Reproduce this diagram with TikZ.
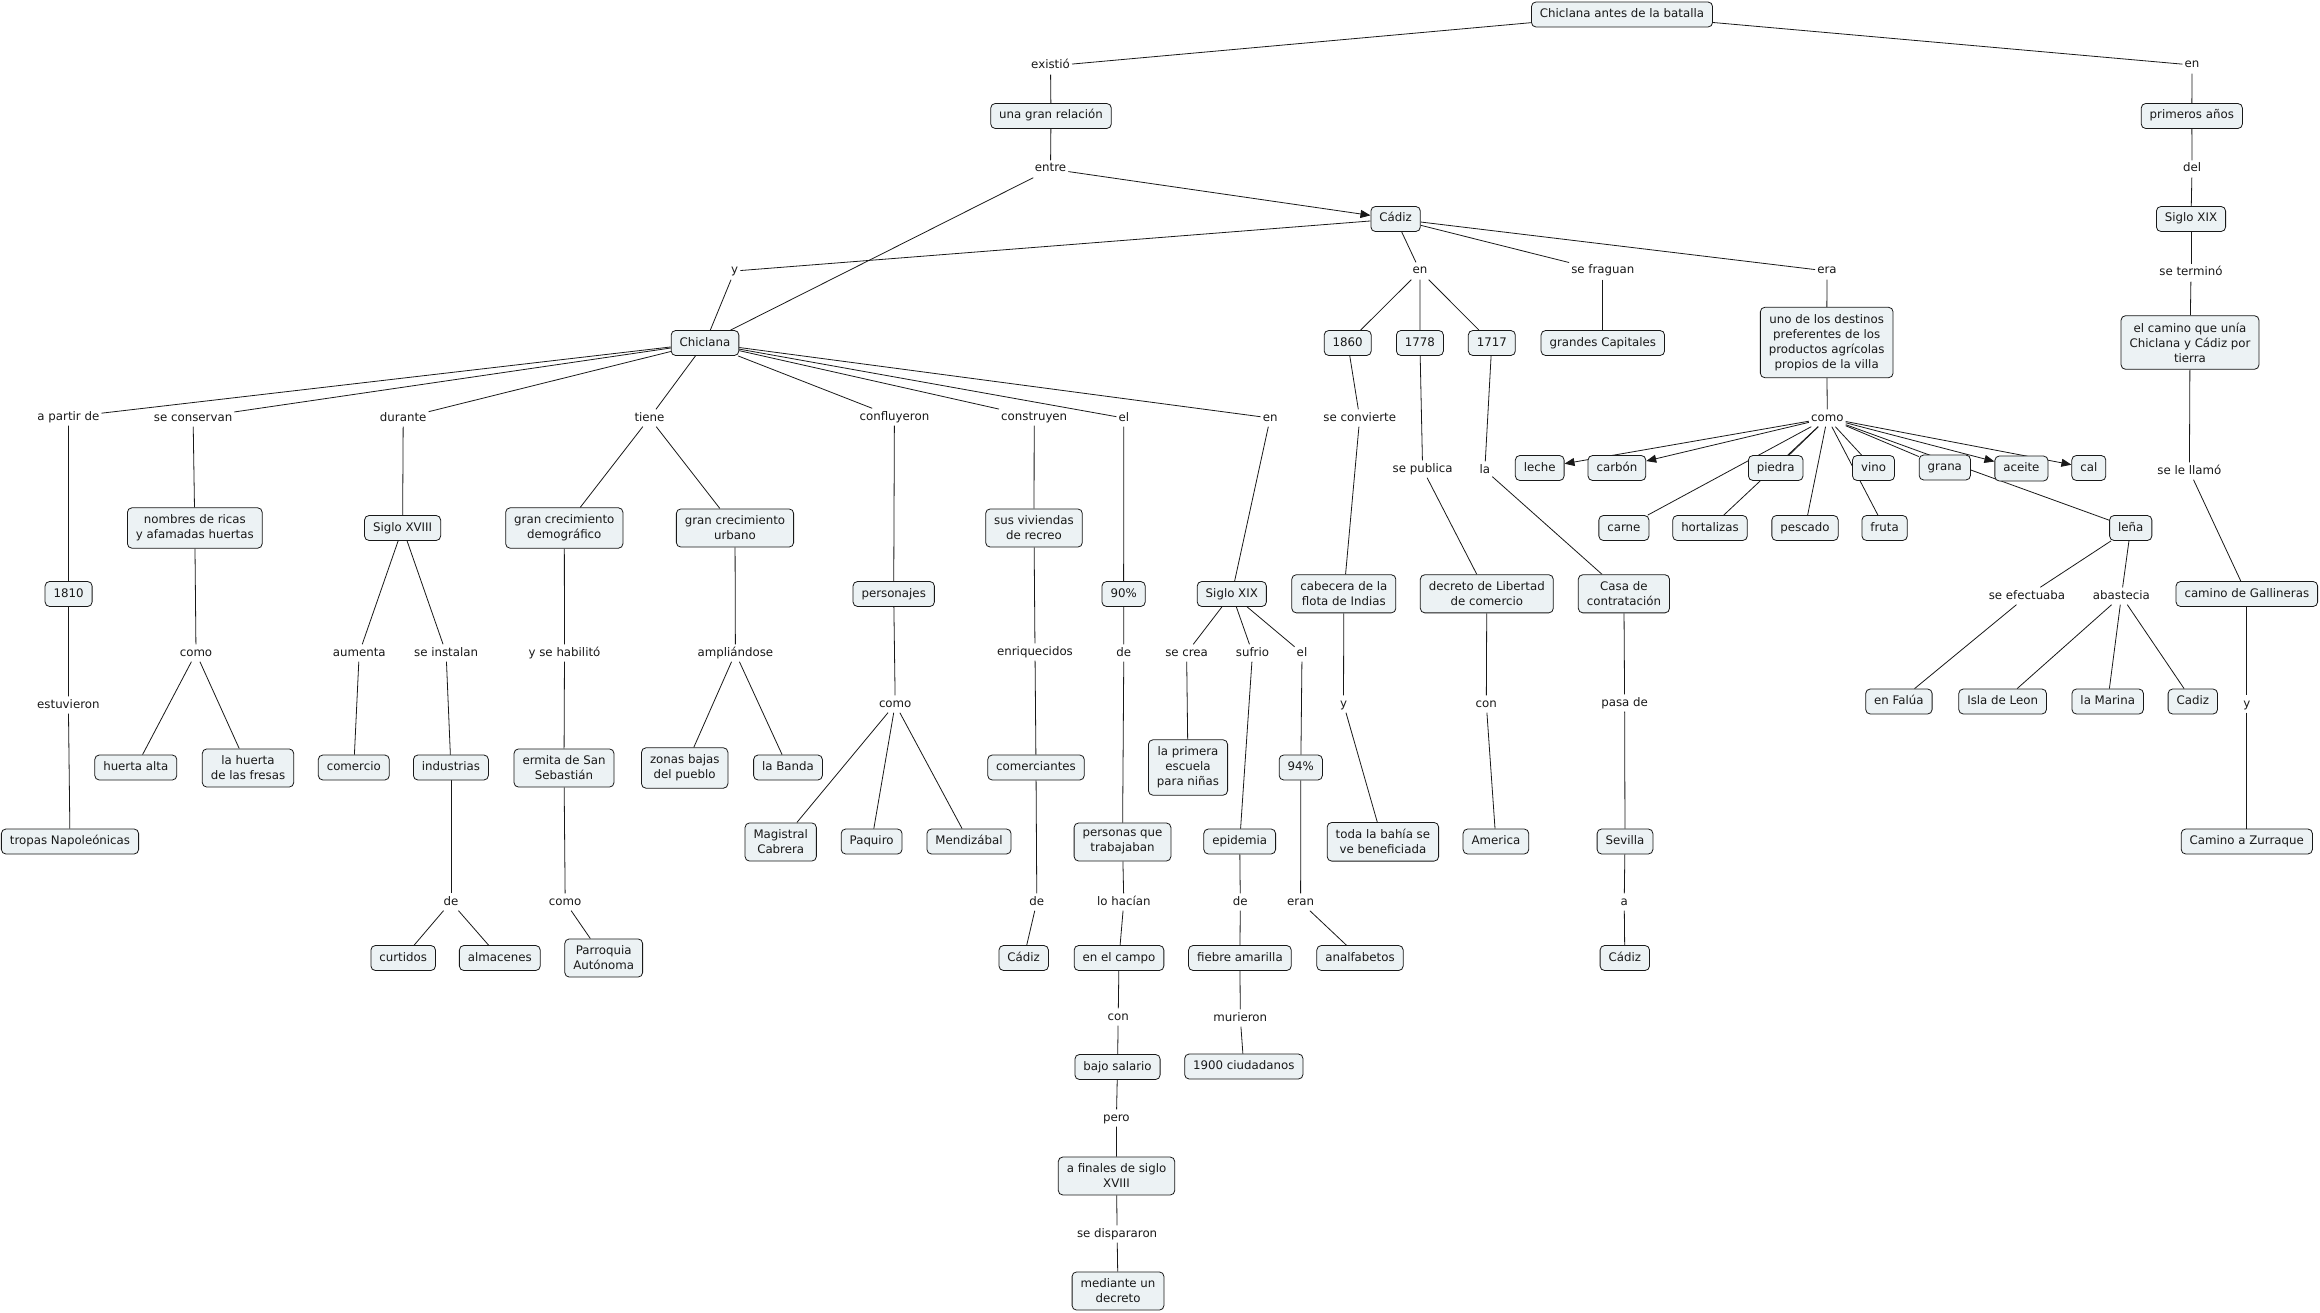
\documentclass[tikz,border=0pt]{standalone}
\usepackage{fontspec}
\setmainfont{DejaVu Sans}
\usetikzlibrary{arrows.meta,backgrounds}
\definecolor{boxfill}{RGB}{236,242,244}
\definecolor{ink}{RGB}{25,25,25}
\begin{document}
\begin{tikzpicture}[x=1pt,y=-1pt,
  every node/.style={font=\fontsize{11.8}{15}\selectfont, text=ink},
  cbox/.style={draw=ink, fill=boxfill, rounded corners=4.5pt, line width=0.8pt, inner xsep=8.5pt, inner ysep=6.5pt, text height=9pt, text depth=3pt},
  mbox/.style={draw=ink, fill=boxfill, rounded corners=4.5pt, line width=0.8pt, inner xsep=8.5pt, inner ysep=7pt, align=center},
  lbl/.style={inner xsep=2pt, inner ysep=3pt, text height=8.5pt, text depth=2.5pt, yshift=-2pt},
  con/.style={draw=ink, line width=0.8pt},
  arr/.style={con, -{Triangle[length=10pt,width=8pt]}}
]
\useasboundingbox (0,0) rectangle (2320,1313);

% ---------- concept boxes ----------
\node[cbox] (root) at (1622,14.5) {Chiclana antes de la batalla};
\node[cbox] (rel) at (1051,116) {una gran relación};
\node[cbox] (chi) at (705,343) {Chiclana};
\node[cbox] (cad) at (1395.6,219) {Cádiz};
\node[cbox] (y1860) at (1347.7,343) {1860};
\node[cbox] (y1778) at (1419.9,343) {1778};
\node[cbox] (y1717) at (1491.8,343) {1717};
\node[cbox] (cap) at (1602.8,343) {grandes Capitales};
\node[mbox] (dest) at (1826.7,342.5) {uno de los destinos\\preferentes de los\\productos agrícolas\\propios de la villa};
\node[cbox] (prim) at (2191.8,116) {primeros años};
\node[cbox] (sxixR) at (2191,219) {Siglo XIX};
\node[mbox] (camino) at (2190,342.5) {el camino que unía\\Chiclana y Cádiz por\\tierra};
\node[cbox] (gall) at (2246.8,594) {camino de Gallineras};
\node[cbox] (zurr) at (2246.8,841.5) {Camino a Zurraque};

\node[cbox] (leche) at (1539.7,468) {leche};
\node[cbox] (carbon) at (1616.9,468) {carbón};
\node[cbox] (piedra) at (1775.7,468) {piedra};
\node[cbox] (vino) at (1873.5,468) {vino};
\node[cbox] (grana) at (1944.8,467.5) {grana};
\node[cbox] (aceite) at (2021.4,468.5) {aceite};
\node[cbox] (cal) at (2088.8,468) {cal};
\node[cbox] (carne) at (1623.9,528) {carne};
\node[cbox] (hort) at (1710,528) {hortalizas};
\node[cbox] (pesc) at (1805,528) {pescado};
\node[cbox] (fruta) at (1884.6,528) {fruta};
\node[cbox] (lena) at (2130.7,528) {leña};
\node[cbox] (falua) at (1898.9,701.5) {en Falúa};
\node[cbox] (isla) at (2002.6,701.5) {Isla de Leon};
\node[cbox] (marina) at (2107.7,701.5) {la Marina};
\node[cbox] (cadiz2) at (2192.8,701.5) {Cadiz};

\node[mbox] (flota) at (1343.8,593.8) {cabecera de la\\flota de Indias};
\node[mbox] (bahia) at (1382.9,841.8) {toda la bahía se\\ve beneficiada};
\node[mbox] (decreto) at (1486.8,593.8) {decreto de Libertad\\de comercio};
\node[cbox] (america) at (1495.9,841.5) {America};
\node[mbox] (casa) at (1623.9,593.8) {Casa de\\contratación};
\node[cbox] (sevilla) at (1625,841.5) {Sevilla};
\node[cbox] (cadiz3) at (1624.8,958) {Cádiz};

\node[cbox] (y1810) at (68.6,594) {1810};
\node[cbox] (tropas) at (70,841.5) {tropas Napoleónicas};
\node[mbox] (ricas) at (194.8,528) {nombres de ricas\\y afamadas huertas};
\node[cbox] (halta) at (135.8,767.5) {huerta alta};
\node[mbox] (fresas) at (248,768) {la huerta\\de las fresas};
\node[cbox] (sxviii) at (402.6,528) {Siglo XVIII};
\node[cbox] (comercio) at (353.8,767.5) {comercio};
\node[cbox] (indus) at (450.9,767.5) {industrias};
\node[cbox] (curt) at (403.2,958) {curtidos};
\node[cbox] (alm) at (499.8,958) {almacenes};
\node[mbox] (demo) at (564.3,528) {gran crecimiento\\demográfico};
\node[mbox] (ermita) at (564,768) {ermita de San\\Sebastián};
\node[mbox] (parro) at (603.7,958) {Parroquia\\Autónoma};
\node[mbox] (urb) at (735,528) {gran crecimiento\\urbano};
\node[mbox] (zonas) at (684.7,768) {zonas bajas\\del pueblo};
\node[cbox] (banda) at (788,767.5) {la Banda};
\node[cbox] (pers) at (893.7,594) {personajes};
\node[mbox] (magis) at (780.7,842) {Magistral\\Cabrera};
\node[cbox] (paq) at (871.6,841.5) {Paquiro};
\node[cbox] (mendi) at (969,841.5) {Mendizábal};
\node[mbox] (viv) at (1034,528) {sus viviendas\\de recreo};
\node[cbox] (comerc) at (1036,767.5) {comerciantes};
\node[cbox] (cadiz4) at (1023.7,958) {Cádiz};
\node[cbox] (p90) at (1123.6,594) {90\%};
\node[mbox] (ptrab) at (1122.5,842) {personas que\\trabajaban};
\node[cbox] (campo) at (1119,958) {en el campo};
\node[cbox] (salario) at (1117.5,1067) {bajo salario};
\node[mbox] (finales) at (1116.5,1176) {a finales de siglo\\XVIII};
\node[mbox] (decr2) at (1118,1291) {mediante un\\decreto};
\node[cbox] (sxixM) at (1231.8,594) {Siglo XIX};
\node[mbox] (escuela) at (1188,767.5) {la primera\\escuela\\para niñas};
\node[cbox] (epid) at (1239.7,841.5) {epidemia};
\node[cbox] (fiebre) at (1239.9,958) {fiebre amarilla};
\node[cbox] (ciud) at (1243.8,1066.5) {1900 ciudadanos};
\node[cbox] (p94) at (1300.8,767.5) {94\%};
\node[cbox] (analf) at (1360,958) {analfabetos};

% ---------- linking phrases ----------
\node[lbl] (lexis) at (1050.5,64) {existió};
\node[lbl] (lentre) at (1050.5,167) {entre};
\node[lbl] (lenR) at (2192,63) {en};
\node[lbl] (ldel) at (2192,167) {del};
\node[lbl] (lterm) at (2191,271) {se terminó};
\node[lbl] (lllamo) at (2189.4,469) {se le llamó};
\node[lbl] (lyR) at (2246.8,702) {y};
\node[lbl] (ly) at (734.6,269) {y};
\node[lbl] (len) at (1420,269) {en};
\node[lbl] (lfrag) at (1602.8,269) {se fraguan};
\node[lbl] (lera) at (1827,269) {era};
\node[lbl] (lcomo) at (1827.3,416) {como};
\node[lbl] (lefec) at (2027,594) {se efectuaba};
\node[lbl] (labas) at (2121.4,594) {abastecia};
\node[lbl] (lconv) at (1359.7,416) {se convierte};
\node[lbl] (lyF) at (1343.5,702) {y};
\node[lbl] (lpubl) at (1422.6,467) {se publica};
\node[lbl] (lcon) at (1486.3,702) {con};
\node[lbl] (lla) at (1484.8,468) {la};
\node[lbl] (lpasa) at (1624.6,701) {pasa de};
\node[lbl] (la) at (1624.2,900) {a};
\node[lbl] (lapartir) at (68.4,415) {a partir de};
\node[lbl] (lestuv) at (68.4,703) {estuvieron};
\node[lbl] (lcons) at (193.1,416) {se conservan};
\node[lbl] (lcomoH) at (196,651) {como};
\node[lbl] (ldurante) at (403.2,416) {durante};
\node[lbl] (laum) at (359.2,651) {aumenta};
\node[lbl] (linst) at (446.1,651) {se instalan};
\node[lbl] (ldeI) at (450.9,900) {de};
\node[lbl] (ltiene) at (649.5,416) {tiene};
\node[lbl] (lhabil) at (564.5,651) {y se habilitó};
\node[lbl] (lcomoE) at (565.2,900) {como};
\node[lbl] (lampl) at (735.4,651) {ampliándose};
\node[lbl] (lconfl) at (894.4,415) {confluyeron};
\node[lbl] (lcomoP) at (895.2,702) {como};
\node[lbl] (lconstr) at (1034.2,415) {construyen};
\node[lbl] (lenriq) at (1035,650) {enriquecidos};
\node[lbl] (ldeC) at (1036.8,900) {de};
\node[lbl] (lel) at (1123.8,416) {el};
\node[lbl] (lde90) at (1123.8,651) {de};
\node[lbl] (lhacian) at (1123.8,900) {lo hacían};
\node[lbl] (lconC) at (1118.2,1015) {con};
\node[lbl] (lpero) at (1116.4,1116) {pero};
\node[lbl] (ldisp) at (1117.1,1232) {se dispararon};
\node[lbl] (lenM) at (1270.2,416) {en};
\node[lbl] (lcrea) at (1186.6,651) {se crea};
\node[lbl] (lsufrio) at (1252.5,651) {sufrio};
\node[lbl] (lel2) at (1302,651) {el};
\node[lbl] (ldeF) at (1240.3,900) {de};
\node[lbl] (lmur) at (1240.3,1016) {murieron};
\node[lbl] (leran) at (1300.6,900) {eran};

% ---------- connectors ----------
\begin{scope}[on background layer]
\fill[white] (0,0) rectangle (2320,1313);
\draw[con] (root) -- (lexis);
\draw[con] (lexis) -- (rel);
\draw[con] (rel) -- (lentre);
\draw[con] (lentre) -- (chi);
\draw[arr] (lentre) -- (cad);
\draw[con] (root) -- (lenR);
\draw[con] (lenR) -- (prim);
\draw[con] (prim) -- (ldel);
\draw[con] (ldel) -- (sxixR);
\draw[con] (sxixR) -- (lterm);
\draw[con] (lterm) -- (camino);
\draw[con] (camino) -- (lllamo);
\draw[con] (lllamo) -- (gall);
\draw[con] (gall) -- (lyR);
\draw[con] (lyR) -- (zurr);
\draw[con] (chi) -- (ly);
\draw[con] (ly) -- (cad);
\draw[con] (cad) -- (len);
\draw[con] (len) -- (y1860);
\draw[con] (len) -- (y1778);
\draw[con] (len) -- (y1717);
\draw[con] (cad) -- (lfrag);
\draw[con] (lfrag) -- (cap);
\draw[con] (cad) -- (lera);
\draw[con] (lera) -- (dest);
\draw[con] (dest) -- (lcomo);
\draw[arr] (lcomo) -- (leche);
\draw[arr] (lcomo) -- (carbon);
\draw[con] (lcomo) -- (piedra);
\draw[con] (lcomo) -- (vino);
\draw[con] (lcomo) -- (grana);
\draw[arr] (lcomo) -- (aceite);
\draw[arr] (lcomo) -- (cal);
\draw[con] (lcomo) -- (carne);
\draw[con] (lcomo) -- (hort);
\draw[con] (lcomo) -- (pesc);
\draw[con] (lcomo) -- (fruta);
\draw[con] (lcomo) -- (lena);
\draw[con] (lena) -- (lefec);
\draw[con] (lefec) -- (falua);
\draw[con] (lena) -- (labas);
\draw[con] (labas) -- (isla);
\draw[con] (labas) -- (marina);
\draw[con] (labas) -- (cadiz2);
\draw[con] (y1860) -- (lconv);
\draw[con] (lconv) -- (flota);
\draw[con] (flota) -- (lyF);
\draw[con] (lyF) -- (bahia);
\draw[con] (y1778) -- (lpubl);
\draw[con] (lpubl) -- (decreto);
\draw[con] (decreto) -- (lcon);
\draw[con] (lcon) -- (america);
\draw[con] (y1717) -- (lla);
\draw[con] (lla) -- (casa);
\draw[con] (casa) -- (lpasa);
\draw[con] (lpasa) -- (sevilla);
\draw[con] (sevilla) -- (la);
\draw[con] (la) -- (cadiz3);
\draw[con] (chi) -- (lapartir);
\draw[con] (lapartir) -- (y1810);
\draw[con] (y1810) -- (lestuv);
\draw[con] (lestuv) -- (tropas);
\draw[con] (chi) -- (lcons);
\draw[con] (lcons) -- (ricas);
\draw[con] (ricas) -- (lcomoH);
\draw[con] (lcomoH) -- (halta);
\draw[con] (lcomoH) -- (fresas);
\draw[con] (chi) -- (ldurante);
\draw[con] (ldurante) -- (sxviii);
\draw[con] (sxviii) -- (laum);
\draw[con] (laum) -- (comercio);
\draw[con] (sxviii) -- (linst);
\draw[con] (linst) -- (indus);
\draw[con] (indus) -- (ldeI);
\draw[con] (ldeI) -- (curt);
\draw[con] (ldeI) -- (alm);
\draw[con] (chi) -- (ltiene);
\draw[con] (ltiene) -- (demo);
\draw[con] (ltiene) -- (urb);
\draw[con] (demo) -- (lhabil);
\draw[con] (lhabil) -- (ermita);
\draw[con] (ermita) -- (lcomoE);
\draw[con] (lcomoE) -- (parro);
\draw[con] (urb) -- (lampl);
\draw[con] (lampl) -- (zonas);
\draw[con] (lampl) -- (banda);
\draw[con] (chi) -- (lconfl);
\draw[con] (lconfl) -- (pers);
\draw[con] (pers) -- (lcomoP);
\draw[con] (lcomoP) -- (magis);
\draw[con] (lcomoP) -- (paq);
\draw[con] (lcomoP) -- (mendi);
\draw[con] (chi) -- (lconstr);
\draw[con] (lconstr) -- (viv);
\draw[con] (viv) -- (lenriq);
\draw[con] (lenriq) -- (comerc);
\draw[con] (comerc) -- (ldeC);
\draw[con] (ldeC) -- (cadiz4);
\draw[con] (chi) -- (lel);
\draw[con] (lel) -- (p90);
\draw[con] (p90) -- (lde90);
\draw[con] (lde90) -- (ptrab);
\draw[con] (ptrab) -- (lhacian);
\draw[con] (lhacian) -- (campo);
\draw[con] (campo) -- (lconC);
\draw[con] (lconC) -- (salario);
\draw[con] (salario) -- (lpero);
\draw[con] (lpero) -- (finales);
\draw[con] (finales) -- (ldisp);
\draw[con] (ldisp) -- (decr2);
\draw[con] (chi) -- (lenM);
\draw[con] (lenM) -- (sxixM);
\draw[con] (sxixM) -- (lcrea);
\draw[con] (lcrea) -- (escuela);
\draw[con] (sxixM) -- (lsufrio);
\draw[con] (lsufrio) -- (epid);
\draw[con] (epid) -- (ldeF);
\draw[con] (ldeF) -- (fiebre);
\draw[con] (fiebre) -- (lmur);
\draw[con] (lmur) -- (ciud);
\draw[con] (sxixM) -- (lel2);
\draw[con] (lel2) -- (p94);
\draw[con] (p94) -- (leran);
\draw[con] (leran) -- (analf);
\end{scope}
\end{tikzpicture}
\end{document}
